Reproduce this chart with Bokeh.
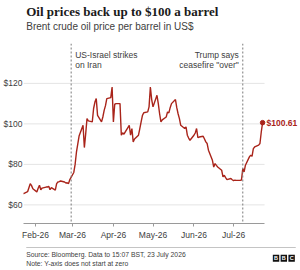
from datetime import datetime

from bokeh.embed import file_html
from bokeh.layouts import column
from bokeh.models import (DatetimeTickFormatter, FixedTicker, Label,
                          NumeralTickFormatter, Range1d, Span)
from bokeh.plotting import figure
from bokeh.resources import INLINE

# ---- data -------------------------------------------------------------
TITLE = "Oil prices back up to $100 a barrel"
SUBTITLE = "Brent crude oil price per barrel in US$"
SOURCE = "Source: Bloomberg. Data to 15:07 BST, 23 July 2026"
NOTE = "Note: Y-axis does not start at zero"

dates = [
    "2026-01-22", "2026-01-23", "2026-01-26", "2026-01-27", "2026-01-28",
    "2026-01-29", "2026-01-30", "2026-02-02", "2026-02-03", "2026-02-04",
    "2026-02-05", "2026-02-06", "2026-02-09", "2026-02-10", "2026-02-11",
    "2026-02-12", "2026-02-13", "2026-02-16", "2026-02-17", "2026-02-18",
    "2026-02-19", "2026-02-20", "2026-02-23", "2026-02-24", "2026-02-25",
    "2026-02-26", "2026-02-27", "2026-03-02", "2026-03-03", "2026-03-04",
    "2026-03-05", "2026-03-06", "2026-03-09", "2026-03-10", "2026-03-11",
    "2026-03-12", "2026-03-13", "2026-03-16", "2026-03-17", "2026-03-18",
    "2026-03-19", "2026-03-20", "2026-03-23", "2026-03-24", "2026-03-25",
    "2026-03-26", "2026-03-27", "2026-03-30", "2026-03-31", "2026-04-01",
    "2026-04-02", "2026-04-03", "2026-04-06", "2026-04-07", "2026-04-08",
    "2026-04-09", "2026-04-10", "2026-04-13", "2026-04-14", "2026-04-15",
    "2026-04-16", "2026-04-17", "2026-04-20", "2026-04-21", "2026-04-22",
    "2026-04-23", "2026-04-24", "2026-04-27", "2026-04-28", "2026-04-29",
    "2026-04-30", "2026-05-01", "2026-05-04", "2026-05-05", "2026-05-06",
    "2026-05-07", "2026-05-08", "2026-05-11", "2026-05-12", "2026-05-13",
    "2026-05-14", "2026-05-15", "2026-05-18", "2026-05-19", "2026-05-20",
    "2026-05-21", "2026-05-22", "2026-05-25", "2026-05-26", "2026-05-27",
    "2026-05-28", "2026-05-29", "2026-06-01", "2026-06-02", "2026-06-03",
    "2026-06-04", "2026-06-05", "2026-06-08", "2026-06-09", "2026-06-10",
    "2026-06-11", "2026-06-12", "2026-06-15", "2026-06-16", "2026-06-17",
    "2026-06-18", "2026-06-19", "2026-06-22", "2026-06-23", "2026-06-24",
    "2026-06-25", "2026-06-26", "2026-06-29", "2026-06-30", "2026-07-01",
    "2026-07-02", "2026-07-03", "2026-07-06", "2026-07-07", "2026-07-08",
    "2026-07-09", "2026-07-10", "2026-07-13", "2026-07-14", "2026-07-15",
    "2026-07-16", "2026-07-17", "2026-07-20", "2026-07-21", "2026-07-22",
    "2026-07-23",
]

prices = [
    65.6, 65.6, 66.5, 68.5, 70.5,
    69.5, 68.0, 66.4, 68.2, 69.7,
    67.5, 68.3, 68.8, 68.8, 69.2,
    67.5, 68.5, 67.3, 70.5, 71.3,
    71.5, 71.8, 71.3, 70.8, 70.9,
    70.5, 72.5, 76.0, 80.0, 86.0,
    90.0, 94.0, 99.3, 88.3, 95.0,
    102.6, 101.5, 101.0, 107.6, 110.8,
    112.5, 104.2, 101.0, 103.4, 106.7,
    109.0, 112.5, 113.0, 118.2, 101.0,
    109.7, 110.0, 110.0, 94.4, 95.6,
    94.9, 96.0, 99.3, 94.4, 97.7,
    91.1, 92.5, 94.4, 97.7, 101.0,
    104.2, 105.5, 105.9, 108.4, 118.2,
    112.0, 108.4, 114.1, 110.0, 105.0,
    101.0, 102.0, 103.4, 105.9, 105.4,
    108.0, 110.0, 112.0, 108.0, 105.0,
    102.6, 99.3, 97.7, 98.5, 94.4,
    93.0, 91.9, 94.4, 95.5, 97.7,
    93.2, 93.5, 93.9, 92.5, 91.1,
    90.3, 87.0, 82.0, 78.7, 80.4,
    79.5, 78.7, 77.1, 73.8, 74.6,
    73.5, 72.5, 73.0, 72.4, 72.0,
    72.2, 72.1, 72.1, 72.3, 77.9,
    76.3, 79.6, 83.7, 84.5, 84.0,
    87.8, 88.6, 89.5, 90.3, 96.0,
    100.61,
]

y_ticks = [60, 80, 100, 120]
x_tick_months = ["2026-02-01", "2026-03-01", "2026-04-01",
                 "2026-05-01", "2026-06-01", "2026-07-01"]

event_dates = ["2026-02-28", "2026-07-08"]
event_lines = [["US-Israel strikes", "on Iran"], ["Trump says", 'ceasefire "over"']]
event_sides = ["left", "right"]

# ---- styling ----------------------------------------------------------
RED = "#a9241a"
TEXT = "#404040"
SANS = "Liberation Sans"
SERIF = "Liberation Serif"
EPOCH = datetime(1970, 1, 1)
DAY_MS = 86400000.0


def to_dt(s):
    return datetime.strptime(s, "%Y-%m-%d")


def to_ms(s):
    return (to_dt(s) - EPOCH).total_seconds() * 1000.0


def blank(height):
    f = figure(width=300, height=height, x_range=Range1d(0, 300),
               y_range=Range1d(height, 0), min_border=0,
               x_axis_location=None, y_axis_location=None,
               output_backend="svg", toolbar_location=None)
    f.grid.visible = False
    f.outline_line_color = None
    return f


# ---- header -----------------------------------------------------------
hdr = blank(38)
hdr.add_layout(Label(x=3, y=11, text=TITLE, text_font=SERIF,
                     text_font_style="bold", text_font_size="13px",
                     text_baseline="middle", text_color="#1a1a1a"))
hdr.add_layout(Label(x=3, y=26, text=SUBTITLE, text_font=SANS,
                     text_font_size="10px", text_baseline="middle",
                     text_color=TEXT))

# ---- main chart -------------------------------------------------------
# the frame runs to the right edge so the end-value label has room;
# the axis line and gridlines stop at the last trading day
feb1 = to_ms("2026-02-01")
x_start = feb1 - 9.1 * DAY_MS
x_axis_end = feb1 + 173.5 * DAY_MS
x_end = feb1 + 199.2 * DAY_MS

p = figure(width=300, height=207, x_axis_type="datetime",
           x_range=Range1d(x_start, x_end), y_range=Range1d(50.8, 139.7),
           min_border_left=23, min_border_right=2, min_border_top=5,
           min_border_bottom=22, output_backend="svg", toolbar_location=None)
p.outline_line_color = None
p.grid.visible = False

p.yaxis.ticker = FixedTicker(ticks=y_ticks)
p.yaxis.formatter = NumeralTickFormatter(format="$0")
p.yaxis.axis_line_color = None
p.yaxis.major_tick_line_color = None
p.yaxis.minor_tick_line_color = None
p.yaxis.major_tick_in = 0
p.yaxis.major_tick_out = 0
p.yaxis.minor_tick_out = 0
p.yaxis.major_label_standoff = 1
p.yaxis.major_label_text_font = SANS
p.yaxis.major_label_text_font_size = "8.5px"
p.yaxis.major_label_text_color = TEXT

# horizontal gridlines at the y ticks, ending with the x axis
p.segment(x0=[x_start] * len(y_ticks), y0=y_ticks,
          x1=[x_axis_end] * len(y_ticks), y1=y_ticks,
          line_color="#e4e4e4", line_width=1)

fmt = "%b-%y"
p.xaxis.ticker = FixedTicker(ticks=[to_ms(d) for d in x_tick_months])
p.xaxis.formatter = DatetimeTickFormatter(
    microseconds=fmt, milliseconds=fmt, seconds=fmt, minsec=fmt,
    minutes=fmt, hourmin=fmt, hours=fmt, days=fmt, months=fmt, years=fmt)
p.xaxis.bounds = (x_start, x_axis_end)
p.xaxis.axis_line_color = "#9a9a9a"
p.xaxis.major_tick_line_color = "#9a9a9a"
p.xaxis.major_tick_in = 0
p.xaxis.major_tick_out = 3
p.xaxis.minor_tick_line_color = None
p.xaxis.minor_tick_out = 0
p.xaxis.major_label_standoff = 3
p.xaxis.major_label_text_font = SANS
p.xaxis.major_label_text_font_size = "8.5px"
p.xaxis.major_label_text_color = TEXT

# event markers with their notes
for d, lines, side in zip(event_dates, event_lines, event_sides):
    loc = to_ms(d)
    p.add_layout(Span(location=loc, dimension="height", line_color="#7a7a7a",
                      line_width=1, line_dash="2 2"))
    for i, t in enumerate(lines):
        p.add_layout(Label(x=loc, y=133.8 - i * 4.9, text=t,
                           x_offset=4 if side == "left" else -4,
                           text_align=side, text_baseline="middle",
                           text_font=SANS, text_font_size="8.5px",
                           text_color=TEXT))

xs = [to_dt(d) for d in dates]
p.line(xs, prices, line_color=RED, line_width=1.4)
p.scatter([xs[-1]], [prices[-1]], size=4.5, color=RED)
p.add_layout(Label(x=to_ms(dates[-1]), y=prices[-1], x_offset=4,
                   text=f"${prices[-1]:.2f}", text_baseline="middle",
                   text_font=SANS, text_font_style="bold",
                   text_font_size="8.5px", text_color=RED))

# ---- footer -----------------------------------------------------------
ftr = blank(25)
ftr.segment(x0=[3], y0=[2], x1=[297], y1=[2], line_color="#c4c4c4",
            line_width=1)
ftr.add_layout(Label(x=3, y=9.3, text=SOURCE, text_font=SANS,
                     text_font_size="6.8px", text_baseline="middle",
                     text_color=TEXT))
ftr.add_layout(Label(x=3, y=17.7, text=NOTE, text_font=SANS,
                     text_font_size="6.8px", text_baseline="middle",
                     text_color=TEXT))
logo_x = [275.5, 284.0, 292.5]
ftr.rect(x=logo_x, y=[12.7] * 3, width=7, height=7, fill_color="#111111",
         line_color=None)
ftr.text(x=logo_x, y=[12.9] * 3, text=["B", "B", "C"], text_align="center",
         text_baseline="middle", text_font_size="5.5px",
         text_font_style="bold", text_color="white")

layout = column(hdr, p, ftr, spacing=0)
open("out.html", "w").write(file_html(layout, INLINE))
